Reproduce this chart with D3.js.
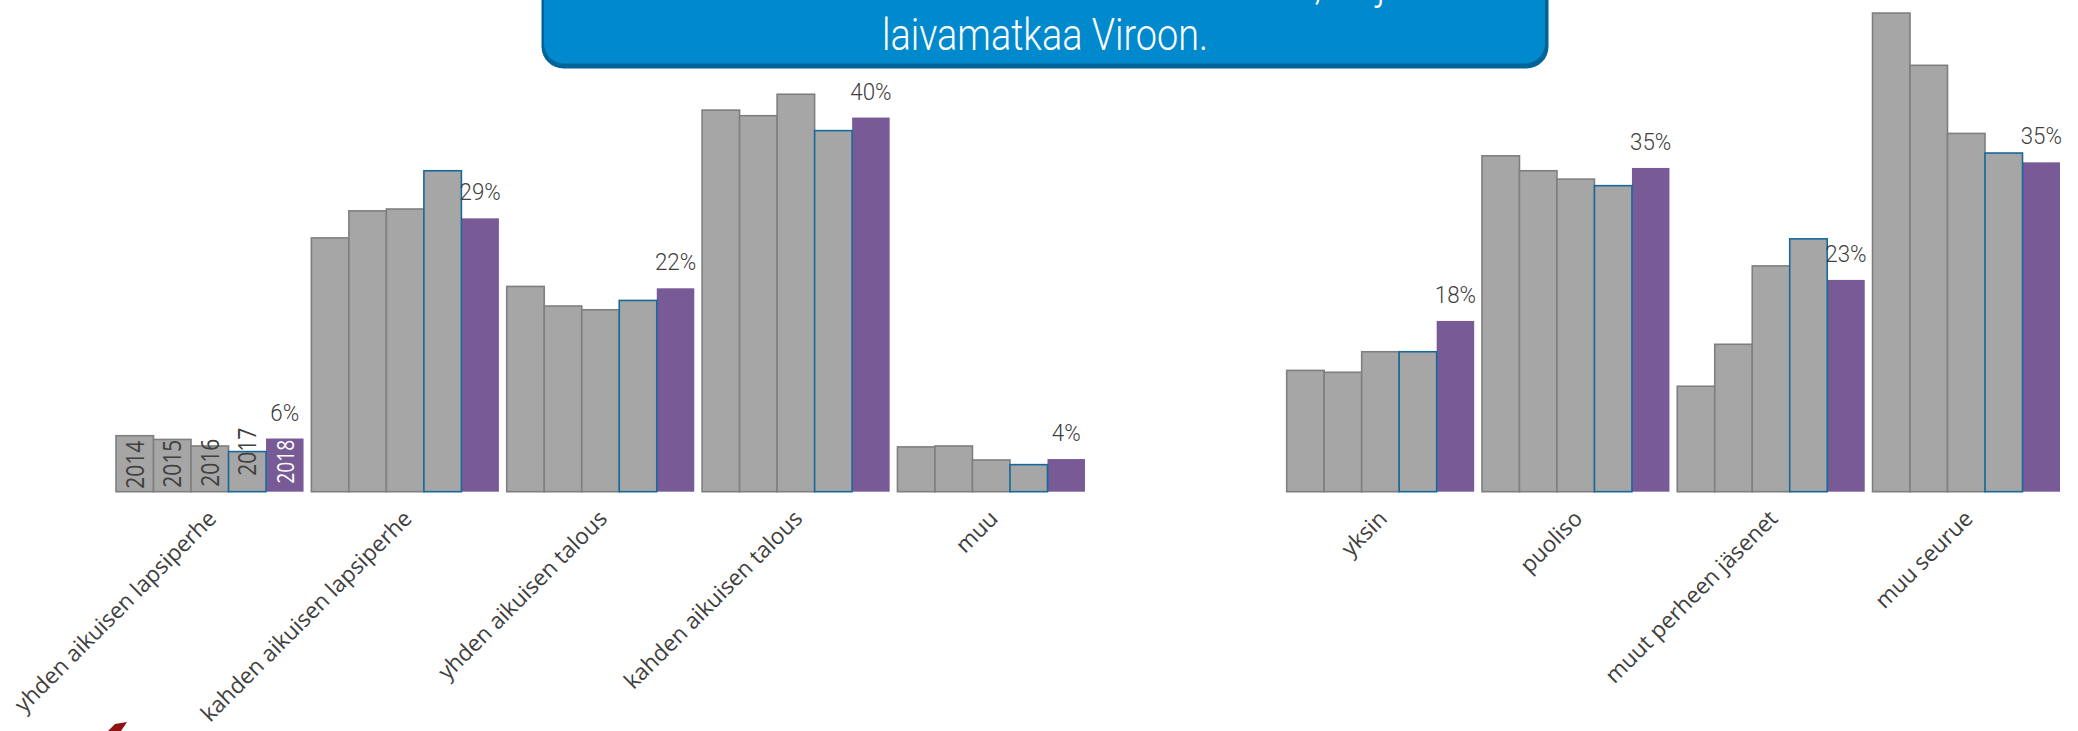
<!DOCTYPE html>
<html>
<head>
<meta charset="utf-8">
<script src="https://cdn.jsdelivr.net/npm/d3@7"></script>
<style>
  html, body { margin: 0; padding: 0; background: #fff; }
  svg { display: block; }
</style>
</head>
<body>
<script>
// Years shown in every group, 2018 is the highlighted one
const years = ['2014', '2015', '2016', '2017', '2018'];

// Left panel: household type (% of travellers)
const householdTypes = ['yhden aikuisen lapsiperhe', 'kahden aikuisen lapsiperhe', 'yhden aikuisen talous', 'kahden aikuisen talous', 'muu'];
const household2014 = [6.0, 27.2, 22.0, 40.9, 4.8];
const household2015 = [5.6, 30.1, 19.9, 40.3, 4.9];
const household2016 = [4.9, 30.3, 19.5, 42.6, 3.4];
const household2017 = [4.3, 34.4, 20.5, 38.7, 2.9];
const household2018 = [5.7, 29.3, 21.8, 40.1, 3.5];

// Right panel: travel company (% of travellers)
const companyTypes = ['yksin', 'puoliso', 'muut perheen jäsenet', 'muu seurue'];
const company2014 = [13.0, 36.0, 11.3, 51.3];
const company2015 = [12.8, 34.4, 15.8, 45.7];
const company2016 = [15.0, 33.5, 24.2, 38.4];
const company2017 = [15.0, 32.8, 27.1, 36.3];
const company2018 = [18.3, 34.7, 22.7, 35.3];

// first line runs off the top of the picture, only its descenders show
const titleLines = ['Mukana on usein kahden aikuisen talous, eli joka', 'laivamatkaa Viroon.'];

// Colours
const grey = '#a6a6a6';
const greyStroke = '#7f7f7f';
const blueStroke = '#17699b';
const purple = '#785a96';
const textColor = '#404040';

const width = 2078;
const height = 731;

const svg = d3.select('body')
  .append('svg')
  .attr('width', width)
  .attr('height', height);

// Shared value scale for both panels
const y = d3.scaleLinear()
  .domain([0, 50])
  .range([491.7, 25.2]);

function drawPanel(categories, series, xRange, withYearLabels) {
  const x0 = d3.scaleBand()
    .domain(categories)
    .range(xRange)
    .paddingInner(0.04)
    .paddingOuter(0);

  const x1 = d3.scaleBand()
    .domain(years)
    .range([0, x0.bandwidth()]);

  const panel = svg.append('g');

  const groups = panel.selectAll('g.group')
    .data(categories)
    .enter()
    .append('g')
    .attr('class', 'group')
    .attr('transform', d => `translate(${x0(d)},0)`);

  // draw 2017 last so its blue outline sits on top
  const order = ['2014', '2015', '2016', '2018', '2017'];

  groups.selectAll('rect')
    .data((cat, i) => order.map(yr => ({ year: yr, value: series[years.indexOf(yr)][i] })))
    .enter()
    .append('rect')
    .attr('x', d => x1(d.year))
    .attr('y', d => y(d.value))
    .attr('width', x1.bandwidth())
    .attr('height', d => y(0) - y(d.value))
    .attr('fill', d => d.year === '2018' ? purple : grey)
    .attr('stroke', d => d.year === '2018' ? 'none' : (d.year === '2017' ? blueStroke : greyStroke))
    .attr('stroke-width', 1.6);

  // 2018 value labels
  groups.append('text')
    .datum((cat, i) => series[4][i])
    .attr('transform', d => `translate(${x1('2018') + x1.bandwidth() / 2},${y(d) - 18}) scale(0.93,1)`)
    .attr('text-anchor', 'middle')
    .attr('font-family', 'Roboto, sans-serif')
    .attr('font-weight', 300)
    .attr('font-size', '24px')
    .attr('fill', textColor)
    .text(d => Math.round(d) + '%');

  // category labels, rotated
  panel.selectAll('text.cat')
    .data(categories)
    .enter()
    .append('text')
    .attr('class', 'cat')
    .attr('transform', d => `translate(${x0(d) + x0.bandwidth() / 2 + 8},520) rotate(-45)`)
    .attr('text-anchor', 'end')
    .attr('font-family', '"Open Sans", sans-serif')
    .attr('font-size', '22.5px')
    .attr('fill', textColor)
    .text(d => d);

  // year labels inside the first group
  if (withYearLabels) {
    const lift = [27, 28, 29, 40, 30];
    panel.append('g')
      .attr('transform', `translate(${x0(categories[0])},0)`)
      .selectAll('text')
      .data(years)
      .enter()
      .append('text')
      .attr('transform', (d, i) => `translate(${x1(d) + 27.5},${y(0) - lift[i]}) rotate(-90) scale(0.84,1)`)
      .attr('text-anchor', 'middle')
      .attr('font-family', '"Open Sans", sans-serif')
      .attr('font-size', (d, i) => i === 4 ? '23px' : '25px')
      .attr('fill', (d, i) => i === 4 ? '#ffffff' : textColor)
      .text(d => d);
  }
}

drawPanel(householdTypes,
  [household2014, household2015, household2016, household2017, household2018],
  [116, 1085], true);

drawPanel(companyTypes,
  [company2014, company2015, company2016, company2017, company2018],
  [1286.7, 2060], false);

// Title box (cut by the top of the picture)
svg.append('rect')
  .attr('x', 541.5)
  .attr('y', -40)
  .attr('width', 1007)
  .attr('height', 108.5)
  .attr('rx', 22)
  .attr('fill', '#00639a');

svg.append('rect')
  .attr('x', 544)
  .attr('y', -40)
  .attr('width', 1001)
  .attr('height', 103.5)
  .attr('rx', 20)
  .attr('fill', '#0089cc');

svg.selectAll('text.title')
  .data(titleLines)
  .enter()
  .append('text')
  .attr('class', 'title')
  .attr('transform', (d, i) => `translate(1045,${-1 + i * 50.5}) scale(0.86,1)`)
  .attr('text-anchor', 'middle')
  .attr('font-family', 'Roboto, sans-serif')
  .attr('font-weight', 300)
  .attr('font-size', '44px')
  .attr('fill', '#ffffff')
  .text(d => d);

// Logo fragment at bottom left
svg.append('polygon')
  .attr('points', '108,731 115,724 127,722 121,731')
  .attr('fill', '#8e1414');
</script>
</body>
</html>
